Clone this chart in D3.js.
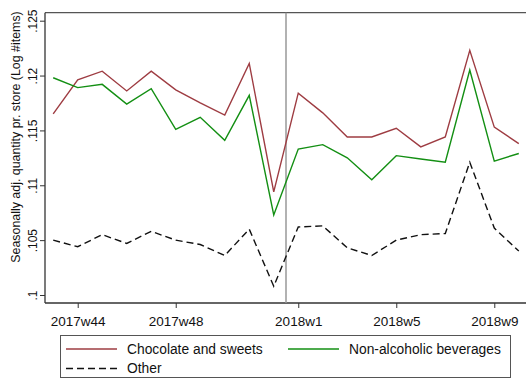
<!DOCTYPE html>
<html>
<head>
<meta charset="utf-8">
<script src="https://cdn.jsdelivr.net/npm/d3@7/dist/d3.min.js"></script>
<style>
  html, body { margin: 0; padding: 0; background: #fff; }
  svg { display: block; font-family: "Liberation Sans", Arial, sans-serif; }
</style>
</head>
<body>
<svg id="chart" width="526" height="378"></svg>
<script>
// Weekly periods, 2017w43 .. 2018w10
const weeks = ["2017w43","2017w44","2017w45","2017w46","2017w47","2017w48","2017w49","2017w50","2017w51","2017w52",
               "2018w1","2018w2","2018w3","2018w4","2018w5","2018w6","2018w7","2018w8","2018w9","2018w10"];

const chocolate = [0.1165, 0.1196, 0.1204, 0.1186, 0.1204, 0.1187, 0.1175, 0.1164, 0.1211, 0.1094,
                   0.1184, 0.1166, 0.1144, 0.1144, 0.1152, 0.1135, 0.1144, 0.1223, 0.1153, 0.1138];
const beverages = [0.1198, 0.1189, 0.1192, 0.1174, 0.1188, 0.1151, 0.1162, 0.1141, 0.1182, 0.1073,
                   0.1133, 0.1137, 0.1125, 0.1105, 0.1127, 0.1124, 0.1121, 0.1205, 0.1122, 0.1129];
const other     = [0.1050, 0.1044, 0.1055, 0.1047, 0.1058, 0.1050, 0.1046, 0.1036, 0.1060, 0.1008,
                   0.1062, 0.1063, 0.1043, 0.1036, 0.1050, 0.1055, 0.1056, 0.1121, 0.1061, 0.1040];

const yTicks = [0.1, 0.105, 0.11, 0.115, 0.12, 0.125];
const yTickLabels = [".1", ".105", ".11", ".115", ".12", ".125"];
const xTickWeeks = ["2017w44", "2017w48", "2018w1", "2018w5", "2018w9"];
// reference line drawn between the last week of 2017 and the first of 2018
const markerPos = 9.5;

const seriesNames = ["Chocolate and sweets", "Non-alcoholic beverages", "Other"];

const svg = d3.select("#chart");

const plot = { left: 45, right: 527, top: 12.7, bottom: 303 };

const x = d3.scaleLinear().domain([-0.335, weeks.length - 1 + 0.335]).range([plot.left, plot.right]);
const y = d3.scaleLinear().domain([0.1, 0.125]).range([295, 20.7]);

const series = [
  { name: seriesNames[0], values: chocolate, color: "#9e3c42", dash: null },
  { name: seriesNames[1], values: beverages, color: "#138f13", dash: null },
  { name: seriesNames[2], values: other,     color: "#111111", dash: "7,4" }
];

// top outline of the plot region
svg.append("line")
  .attr("x1", plot.left).attr("x2", plot.right)
  .attr("y1", plot.top).attr("y2", plot.top)
  .attr("stroke", "#555").attr("stroke-width", 1.2);

// y axis
const yAxis = d3.axisLeft(y)
  .tickValues(yTicks)
  .tickFormat((d, i) => yTickLabels[i])
  .tickSize(5)
  .tickSizeOuter(0);
const gy = svg.append("g").attr("transform", `translate(${plot.left},0)`).call(yAxis);
gy.select(".domain").attr("d", `M0,${plot.top}V${plot.bottom}`).attr("stroke", "#333").attr("stroke-width", 1.3);
gy.selectAll(".tick line").attr("stroke", "#333");
gy.selectAll(".tick text")
  .attr("font-size", 12)
  .attr("fill", "#111")
  .attr("text-anchor", "middle")
  .attr("x", 0)
  .attr("y", 0)
  .attr("dy", 0)
  .attr("transform", "translate(-8,0) rotate(-90)");

// x axis
const xAxis = d3.axisBottom(x)
  .tickValues(xTickWeeks.map(w => weeks.indexOf(w)))
  .tickFormat(i => weeks[i])
  .tickSize(5)
  .tickSizeOuter(0);
const gx = svg.append("g").attr("transform", `translate(0,${plot.bottom})`).call(xAxis);
gx.select(".domain").attr("d", `M${plot.left},0H${plot.right}`).attr("stroke", "#333").attr("stroke-width", 1.3);
gx.selectAll(".tick line").attr("stroke", "#333");
gx.selectAll(".tick text").attr("font-size", 13.5).attr("fill", "#111").attr("y", 23).attr("dy", 0);

// y axis title
svg.append("text")
  .attr("transform", "translate(20,137) rotate(-90)")
  .attr("text-anchor", "middle")
  .attr("font-size", 12.4)
  .attr("fill", "#111")
  .text("Seasonally adj. quantity pr. store (Log #items)");

// vertical reference line
svg.append("line")
  .attr("x1", x(markerPos)).attr("x2", x(markerPos))
  .attr("y1", plot.top).attr("y2", plot.bottom)
  .attr("stroke", "#999").attr("stroke-width", 1.5);

// series lines
const line = d3.line().x((d, i) => x(i)).y(d => y(d));
series.forEach(s => {
  svg.append("path")
    .datum(s.values)
    .attr("fill", "none")
    .attr("stroke", s.color)
    .attr("stroke-width", 1.4)
    .attr("stroke-dasharray", s.dash)
    .attr("stroke-linejoin", "miter")
    .attr("d", line);
});

// legend
const legend = svg.append("g");
legend.append("rect")
  .attr("x", 60.5).attr("y", 335.5).attr("width", 450).attr("height", 42)
  .attr("fill", "#fff").attr("stroke", "#555").attr("stroke-width", 1);
const legendItems = [
  { s: series[0], lx: 66, ly: 349 },
  { s: series[1], lx: 288, ly: 349 },
  { s: series[2], lx: 66, ly: 368.5 }
];
legendItems.forEach(it => {
  legend.append("line")
    .attr("x1", it.lx).attr("x2", it.lx + 51)
    .attr("y1", it.ly).attr("y2", it.ly)
    .attr("stroke", it.s.color).attr("stroke-width", 1.4)
    .attr("stroke-dasharray", it.s.dash);
  legend.append("text")
    .attr("x", it.lx + 61).attr("y", it.ly)
    .attr("dy", "0.35em")
    .attr("font-size", 13.8)
    .attr("fill", "#111")
    .text(it.s.name);
});
</script>
</body>
</html>
